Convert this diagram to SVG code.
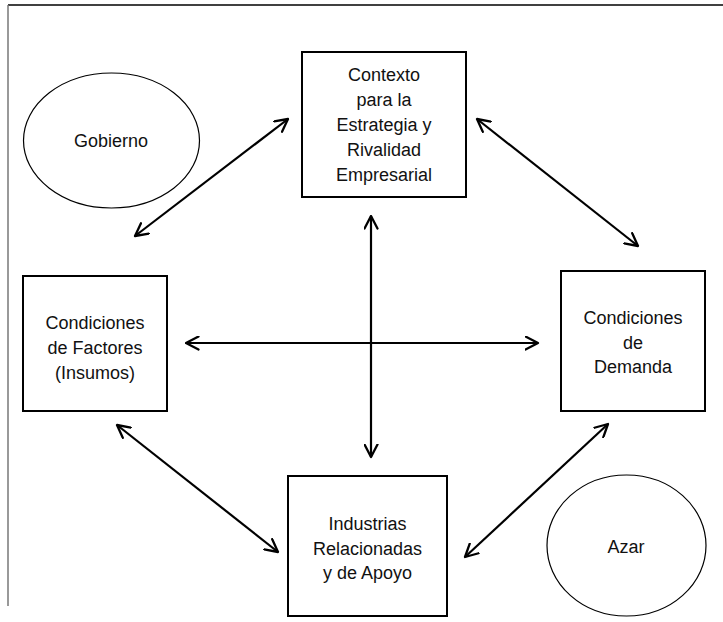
<svg xmlns="http://www.w3.org/2000/svg" width="723" height="622" viewBox="0 0 723 622">
  <style>
    .box { fill: #fff; stroke: #000; stroke-width: 2; }
    .oval { fill: #fff; stroke: #000; stroke-width: 1.2; }
    .lbl { font-family: "Liberation Sans", Arial, sans-serif; font-size: 18px; fill: #111; text-anchor: middle; }
    .link { stroke: #000; stroke-width: 2.2; fill: none; marker-start: url(#head); marker-end: url(#head); }
  </style>
  <defs>
    <marker id="head" viewBox="0 0 15 15" refX="13.5" refY="7.5" markerWidth="15" markerHeight="15" markerUnits="userSpaceOnUse" orient="auto-start-reverse">
      <path d="M1,1 L13.5,7.5 L1,14" fill="none" stroke="#000" stroke-width="2.3" stroke-linecap="round" stroke-linejoin="round"/>
    </marker>
  </defs>
  <rect width="723" height="622" fill="#fff"/>
  <!-- page frame -->
  <line x1="8" y1="5" x2="723" y2="5" stroke="#000" stroke-width="1.5"/>
  <line x1="8" y1="5" x2="8" y2="606" stroke="#777" stroke-width="1.5"/>

  <g id="connectors">
    <line class="link" x1="135" y1="236" x2="288" y2="119"/>
    <line class="link" x1="477" y1="119" x2="638" y2="246"/>
    <line class="link" x1="186" y1="343" x2="538" y2="343"/>
    <line class="link" x1="371" y1="216" x2="371" y2="457"/>
    <line class="link" x1="117" y1="425" x2="278" y2="552"/>
    <line class="link" x1="608" y1="424" x2="465" y2="557"/>
  </g>

  <g id="gobierno">
    <ellipse class="oval" cx="111.5" cy="140.5" rx="88" ry="67.5"/>
    <text class="lbl" x="111" y="147">Gobierno</text>
  </g>

  <g id="azar">
    <ellipse class="oval" cx="626.5" cy="545.5" rx="79.5" ry="70.5"/>
    <text class="lbl" x="626" y="553">Azar</text>
  </g>

  <g id="estrategia">
    <rect class="box" x="302" y="52" width="164" height="145"/>
    <text class="lbl" x="384" y="81">Contexto</text>
    <text class="lbl" x="384" y="106">para la</text>
    <text class="lbl" x="384" y="131">Estrategia y</text>
    <text class="lbl" x="384" y="156">Rivalidad</text>
    <text class="lbl" x="384" y="181">Empresarial</text>
  </g>

  <g id="factores">
    <rect class="box" x="23" y="276" width="144" height="135"/>
    <text class="lbl" x="95" y="329">Condiciones</text>
    <text class="lbl" x="95" y="354">de Factores</text>
    <text class="lbl" x="95" y="379">(Insumos)</text>
  </g>

  <g id="demanda">
    <rect class="box" x="561" y="271" width="144" height="140"/>
    <text class="lbl" x="633" y="324">Condiciones</text>
    <text class="lbl" x="633" y="349">de</text>
    <text class="lbl" x="633" y="373">Demanda</text>
  </g>

  <g id="industrias">
    <rect class="box" x="288" y="476" width="159" height="140"/>
    <text class="lbl" x="367.5" y="530">Industrias</text>
    <text class="lbl" x="367.5" y="555">Relacionadas</text>
    <text class="lbl" x="367.5" y="579">y de Apoyo</text>
  </g>
</svg>
